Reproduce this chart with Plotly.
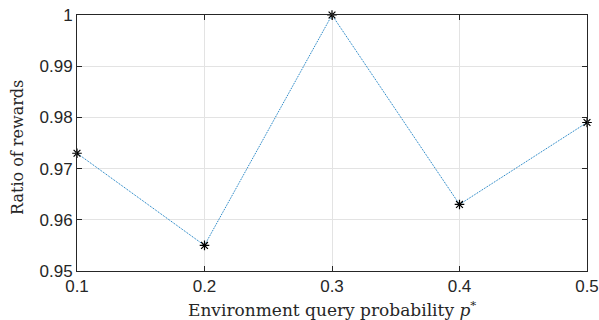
import plotly.graph_objects as go

x_vals = [0.1, 0.2, 0.3, 0.4, 0.5]
y_vals = [0.973, 0.955, 1.0, 0.963, 0.979]
x_ticks = [0.1, 0.2, 0.3, 0.4, 0.5]
x_tick_labels = ["0.1", "0.2", "0.3", "0.4", "0.5"]
y_ticks = [0.95, 0.96, 0.97, 0.98, 0.99, 1.0]
y_tick_labels = ["0.95", "0.96", "0.97", "0.98", "0.99", "1"]

fig = go.Figure()
fig.add_trace(go.Scatter(
    x=x_vals, y=y_vals, mode="lines+markers",
    line=dict(color="#0072BD", width=1, dash="1px,1px"),
    marker=dict(symbol="asterisk-open", size=8, color="black",
                line=dict(color="black", width=1.2)),
    cliponaxis=False, showlegend=False, hoverinfo="skip",
))

axis_common = dict(
    showline=True, linecolor="#262626", linewidth=1, mirror="ticks",
    ticks="inside", ticklen=5, tickcolor="#262626", tickwidth=1,
    showgrid=True, gridcolor="#e3e3e3", gridwidth=1, zeroline=False,
    automargin=False,
    tickfont=dict(family="Liberation Sans, Arial, sans-serif", size=17, color="#262626"),
)

fig.update_xaxes(range=[0.1, 0.5], tickvals=x_ticks, ticktext=x_tick_labels, **axis_common)
fig.update_yaxes(range=[0.95, 1.0], tickvals=y_ticks, ticktext=y_tick_labels, **axis_common)

title_font = dict(family="DejaVu Serif, Liberation Serif, serif", size=17, color="#262626")
fig.add_annotation(
    text="Environment query probability <i>p</i><sup>*</sup>",
    xref="paper", yref="paper", x=0.5, y=0, yshift=-38, xshift=0,
    xanchor="center", yanchor="middle", showarrow=False, font=title_font,
)
fig.add_annotation(
    text="Ratio of rewards",
    xref="paper", yref="paper", x=0, y=0.5, xshift=-60, yshift=-5,
    xanchor="center", yanchor="middle", textangle=-90, showarrow=False,
    font=dict(family="DejaVu Serif, Liberation Serif, serif", size=16, color="#262626"),
)

fig.update_layout(
    width=599, height=320,
    margin=dict(l=77, r=12, t=15, b=49),
    paper_bgcolor="white", plot_bgcolor="white",
)

fig.write_html("out.html", config={"displayModeBar": False},
               post_script="document.body.style.margin='0';")
